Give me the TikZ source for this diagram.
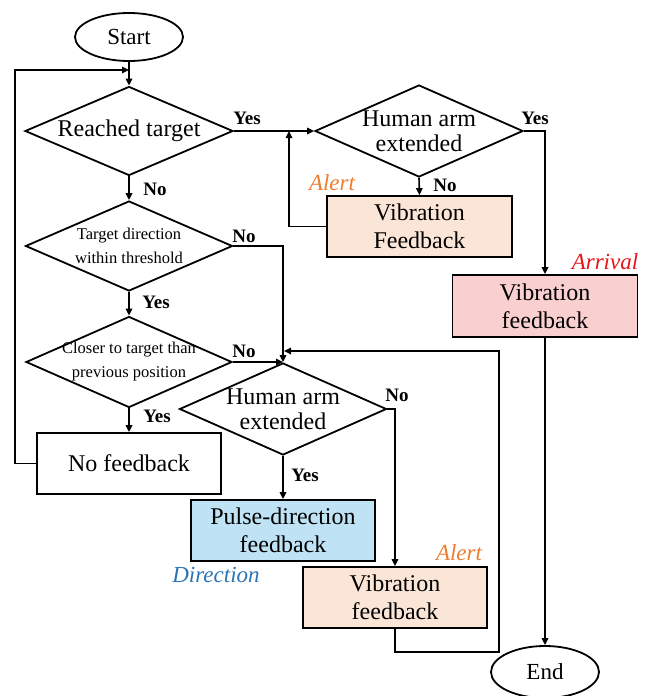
\documentclass[tikz,border=0pt]{standalone}
\usepackage{fontspec}
\setmainfont{Liberation Serif}
\usetikzlibrary{shapes.geometric,arrows.meta}
\definecolor{peach}{HTML}{FBE5D6}
\definecolor{pinkf}{HTML}{F9CFCF}
\definecolor{bluef}{HTML}{BFE3F4}
\definecolor{alertc}{HTML}{ED7D31}
\definecolor{arrc}{HTML}{E8141B}
\definecolor{dirc}{HTML}{2E75B6}
\begin{document}
\begin{tikzpicture}[x=1pt,y=-1pt,
  line width=1.6pt,
  arr/.style={-{Triangle[length=7pt,width=6.5pt]}},
  dia/.style={diamond,draw,line width=1.8pt,inner sep=0pt},
  bigt/.style={font=\fontsize{24}{25}\selectfont,align=center,inner sep=0pt},
  smallt/.style={font=\fontsize{16.5}{24}\selectfont,align=center,inner sep=0pt},
  fbox/.style={draw,line width=1.8pt,minimum width=184pt,minimum height=61pt,inner sep=0pt,font=\fontsize{24}{28}\selectfont,align=center},
  term/.style={ellipse,draw,line width=1.8pt,minimum width=108pt,inner sep=0pt,font=\fontsize{23}{26}\selectfont},
  yn/.style={font=\fontsize{19}{22}\selectfont\bfseries,inner sep=0pt},
  tag/.style={font=\fontsize{23}{26}\selectfont\itshape,inner sep=0pt},
]
\useasboundingbox[fill=white] (0,0) rectangle (656,696);

% terminals
\node[term,minimum height=48pt] (start) at (129,37) {Start};
\node[term,minimum height=52pt] (end) at (545,672) {End};

% decisions
\node[dia,minimum width=208pt,minimum height=89pt,label={[bigt]center:Reached target}] (d1) at (129,131) {};
\node[dia,minimum width=208pt,minimum height=92pt,label={[bigt]center:Human arm\\extended}] (d2) at (419,131) {};
\node[dia,minimum width=207pt,minimum height=90pt,label={[smallt]center:Target direction\\within threshold}] (d3) at (129,246) {};
\node[dia,minimum width=206pt,minimum height=91pt,label={[smallt]center:Closer to target than\\previous position}] (d5) at (129,362) {};
\node[dia,minimum width=207pt,minimum height=92pt,label={[bigt]center:Human arm\\extended}] (d4) at (283,409) {};

% process boxes
\node[fbox,fill=peach,minimum width=185pt] (alert1) at (419.5,226.5) {Vibration\\Feedback};
\node[fbox,fill=pinkf,minimum width=185pt,minimum height=62pt] (arrival) at (545,306) {Vibration\\feedback};
\node[fbox,fill=bluef] (pulse) at (283,530.5) {Pulse-direction\\feedback};
\node[fbox,fill=peach] (alert2) at (395,597.5) {Vibration\\feedback};
\node[fbox] (nofb) at (129,463.5) {No feedback};

% coordinates
\coordinate (loopin) at (129,70);
\coordinate (loopcorner) at (15,70);
\coordinate (upin) at (289,131);
\coordinate (d5in) at (283,362);
\coordinate (backr) at (499,351);
\coordinate (backin) at (284,351);

% connectors
\draw[arr] (start.south) -- (d1.north);
\draw[arr] (nofb.west) -| (loopcorner) -- (loopin);
\draw[arr] (d1.south) -- (d3.north);
\draw[arr] (d1.east) -- (d2.west);
\draw[arr] (alert1.west) -| (upin);
\draw[arr] (d2.south) -- (alert1.north);
\draw[arr] (d2.east) -| (arrival.north);
\draw[arr] (arrival.south) -- (end.north);
\draw[arr] (d3.east) -| (d4.north);
\draw[arr] (d3.south) -- (d5.north);
\draw[arr] (d5.east) -- (d5in);
\draw[arr] (d5.south) -- (nofb.north);
\draw[arr] (d4.east) -| (alert2.north);
\draw[arr] (d4.south) -- (pulse.north);
\draw[arr] (alert2.south) -- ++(0,23) -| (backr) -- (backin);

% yes / no labels
\node[yn] (l1) at (247,118) {Yes};
\node[yn] (l2) at (155,189) {No};
\node[yn] (l3) at (244,236) {No};
\node[yn] (l4) at (156,302) {Yes};
\node[yn] (l5) at (244,351) {No};
\node[yn] (l6) at (157,416) {Yes};
\node[yn] (l7) at (305,475) {Yes};
\node[yn] (l8) at (397,395) {No};
\node[yn] (l9) at (535,118) {Yes};
\node[yn] (l10) at (445,185) {No};

% tags
\node[tag,text=alertc] (t1) at (332,183) {Alert};
\node[tag,text=arrc] (t2) at (605,262) {Arrival};
\node[tag,text=alertc] (t3) at (459,553) {Alert};
\node[tag,text=dirc] (t4) at (216,575) {Direction};
\end{tikzpicture}
\end{document}
